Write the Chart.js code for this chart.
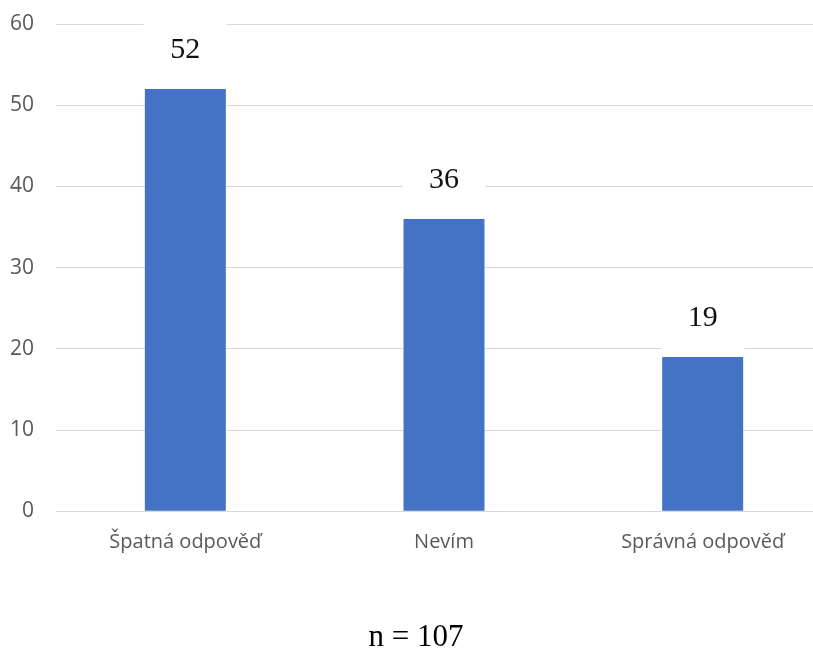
<html>
  <head>
    <meta charset="utf-8">
    <title>Odpovědi - sloupcový graf</title>
    <script src="https://cdn.jsdelivr.net/npm/chart.js@4.4.1/dist/chart.umd.min.js"></script>
    <style>
      html, body {
        margin: 0;
        padding: 0;
        background: #ffffff;
        overflow: hidden;
      }
      /* canvas is a bit wider than the window: the right edge of the plot is cut off like in the original */
      #myChart {
        display: block;
      }
    </style>
  </head>
  <body>
    <canvas id="myChart" width="834" height="650"></canvas>
  <script>
    // data
    const categories = ["Špatná odpověď", "Nevím", "Správná odpověď"];
    const counts = [52, 36, 19];
    const yTicks = [0, 10, 20, 30, 40, 50, 60];
    const footnote = "n = 107";

    const BAR_BLUE = "#4472C4";
    const GRID_GREY = "#d9d9d9";
    const TICK_GREY = "#595959";

    // value labels above the bars, on a white patch that hides the gridlines
    const valueLabels = {
      id: "valueLabels",
      afterDatasetsDraw(chart) {
        const ctx = chart.ctx;
        const meta = chart.getDatasetMeta(0);
        ctx.save();
        meta.data.forEach((bar, i) => {
          const labelY = bar.y - 39;
          const half = bar.width / 2 + 1;
          ctx.fillStyle = "#ffffff";
          ctx.fillRect(bar.x - half, labelY - 30, half * 2, bar.y - labelY + 30 - 0.5);
          ctx.fillStyle = "#111111";
          ctx.font = "30px 'Liberation Serif', 'Times New Roman', serif";
          ctx.textAlign = "center";
          ctx.textBaseline = "middle";
          ctx.fillText(String(counts[i]), bar.x, labelY);
        });
        ctx.restore();
      }
    };

    const config = {
      type: "bar",
      data: {
        labels: categories,
        datasets: [
          {
            label: "Počet",
            data: counts,
            backgroundColor: BAR_BLUE,
            borderWidth: 0,
            categoryPercentage: 1,
            barPercentage: 0.313,
          }
        ]
      },
      options: {
        responsive: false,
        animation: false,
        layout: {
          padding: { top: 24, right: 2, bottom: 0, left: 0 }
        },
        plugins: {
          legend: { display: false },
          tooltip: { enabled: false },
          title: {
            display: true,
            position: "bottom",
            text: footnote,
            color: "#000000",
            font: { family: "'Liberation Serif', 'Times New Roman', serif", size: 31, weight: "normal", lineHeight: 0.8 },
            padding: { top: 0, bottom: 0 }
          }
        },
        scales: {
          x: {
            grid: { display: false, drawTicks: false },
            border: { display: false },
            ticks: {
              color: TICK_GREY,
              font: { family: "'Open Sans', 'Noto Sans', sans-serif", size: 20 },
              padding: 19,
              maxRotation: 0
            },
            afterFit(scale) { scale.height = 114; }
          },
          y: {
            min: 0,
            max: 60,
            afterBuildTicks(scale) {
              scale.ticks = yTicks.map(v => ({ value: v }));
            },
            grid: { color: GRID_GREY, lineWidth: 1, drawTicks: false },
            border: { display: false },
            ticks: {
              color: TICK_GREY,
              font: { family: "'Open Sans', 'Noto Sans', sans-serif", size: 21 },
              padding: 22
            },
            afterFit(scale) {
              scale.width = 56;
              scale.paddingTop = 0;
              scale.paddingBottom = 0;
            }
          }
        }
      },
      plugins: [valueLabels]
    };

    const ctx = document.getElementById("myChart");
    let myChart = new Chart(ctx, config);
  </script>
  </body>
</html>
